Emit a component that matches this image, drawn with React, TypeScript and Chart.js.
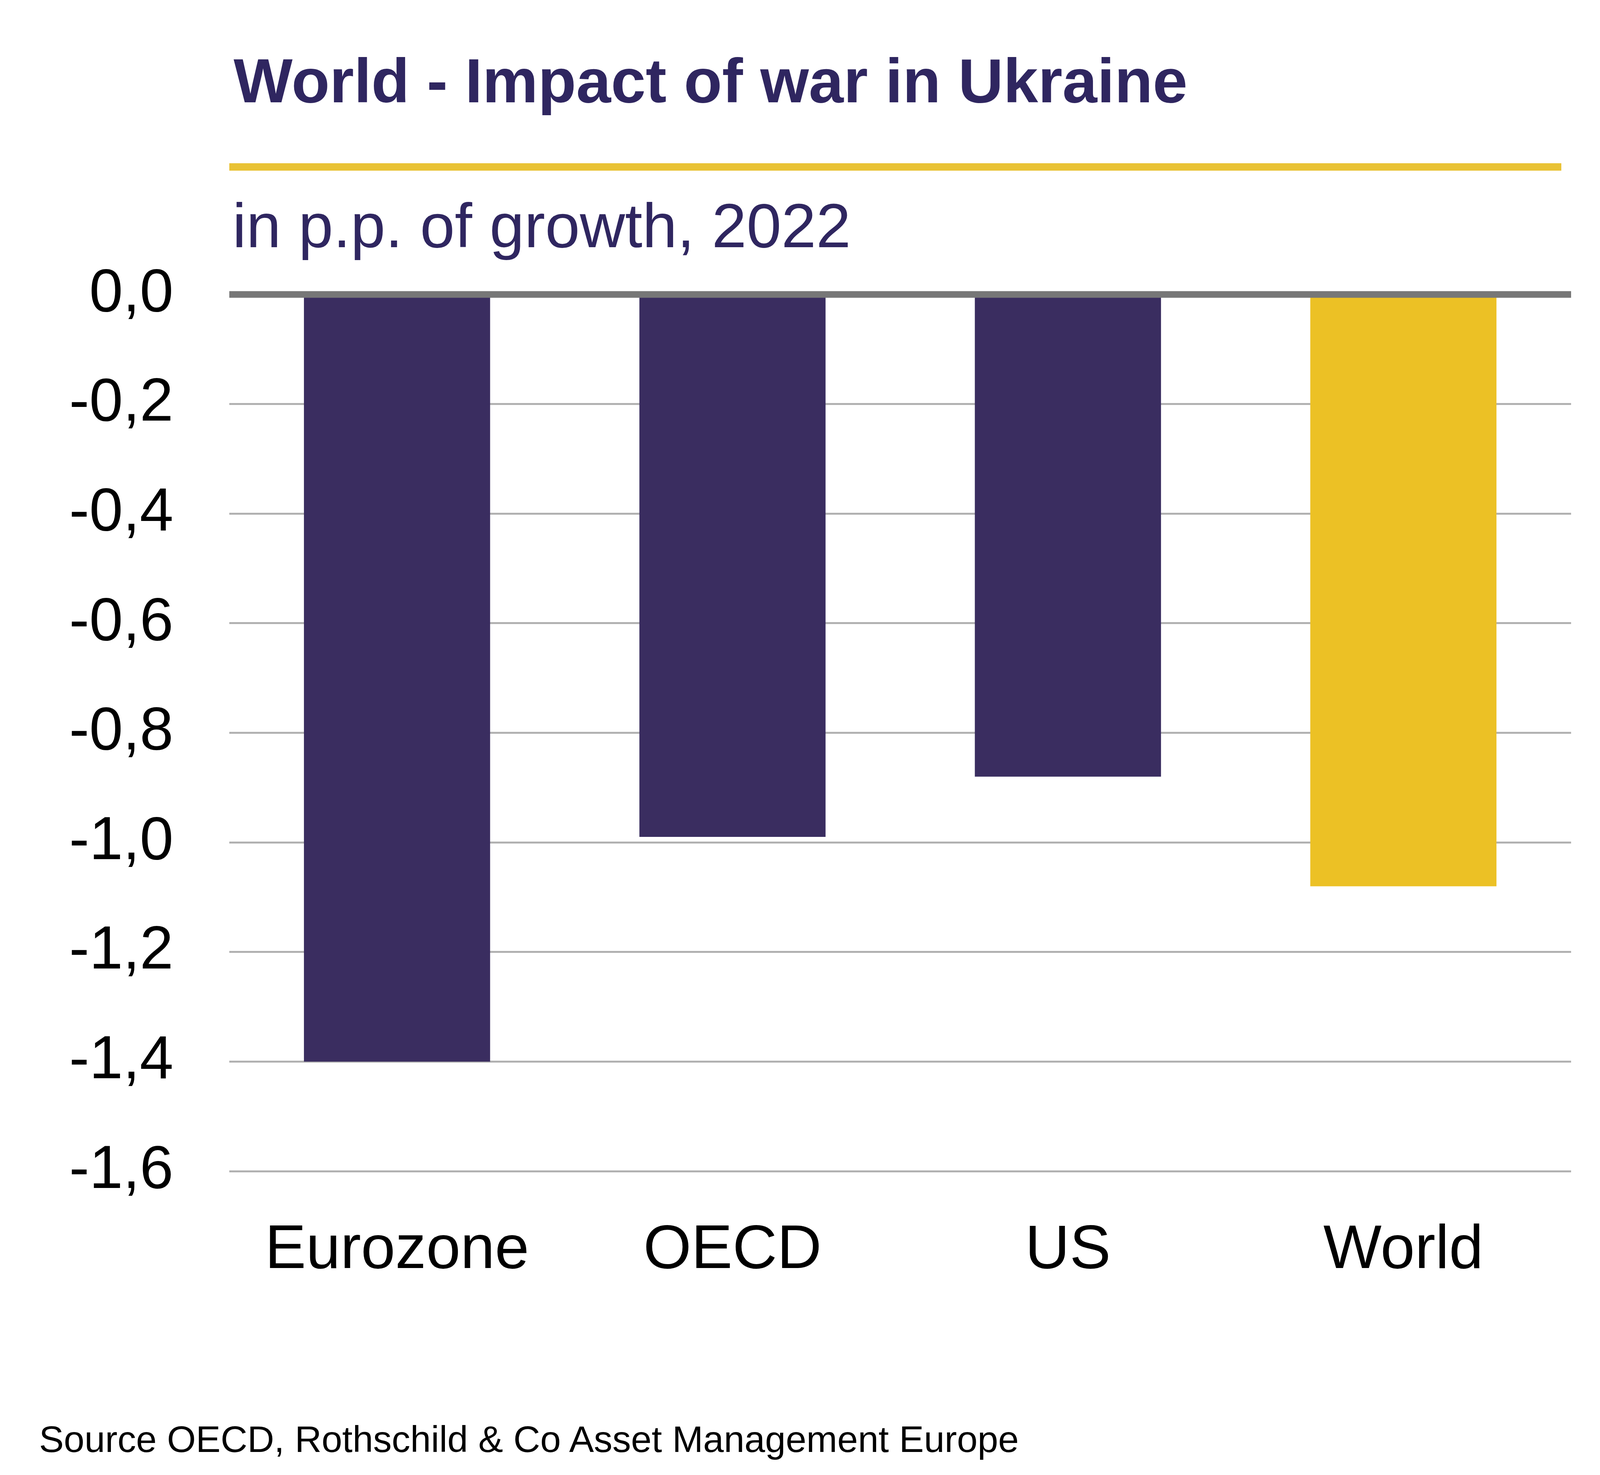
import { useEffect, useRef } from 'react';
import { Chart, registerables } from 'chart.js';

Chart.register(...registerables);

const categories = ['Eurozone', 'OECD', 'US', 'World'];
const impactValues = [-1.4, -0.99, -0.88, -1.08];
const barColors = ['#3a2d60', '#3a2d60', '#3a2d60', '#ecc125'];
const yMin = -1.6;
const yMax = 0;
const yStep = 0.2;
const titleText = 'World - Impact of war in Ukraine';
const subtitleText = 'in p.p. of growth, 2022';
const sourceText = 'Source OECD, Rothschild & Co Asset Management Europe';

const W = 4224;
const H = 3777;
const FONT = '"Liberation Sans", Arial, sans-serif';

const zeroLinePlugin = {
  id: 'zeroLine',
  afterDatasetsDraw(chart: any) {
    const y = chart.scales.y;
    const ctx = chart.ctx;
    const py = y.getPixelForValue(0);
    ctx.save();
    ctx.strokeStyle = '#777777';
    ctx.lineWidth = 17;
    ctx.beginPath();
    ctx.moveTo(chart.chartArea.left, py);
    ctx.lineTo(chart.chartArea.right, py);
    ctx.stroke();
    ctx.restore();
  },
};

export default function App() {
  const canvasRef = useRef<HTMLCanvasElement | null>(null);

  useEffect(() => {
    if (!canvasRef.current) return;
    const chart = new Chart(canvasRef.current, {
      type: 'bar',
      data: {
        labels: categories,
        datasets: [
          {
            data: impactValues,
            backgroundColor: barColors,
            borderWidth: 0,
            barPercentage: 0.555,
            categoryPercentage: 1,
          },
        ],
      },
      options: {
        animation: false,
        responsive: false,
        devicePixelRatio: 1,
        layout: { padding: { left: 0, right: 202, top: 754, bottom: 0 } },
        plugins: {
          legend: { display: false },
          tooltip: { enabled: false },
          title: { display: false },
        },
        scales: {
          x: {
            grid: { display: false, drawTicks: false },
            border: { display: false },
            ticks: {
              color: '#000000',
              padding: 110,
              font: { family: FONT, size: 158 },
              maxRotation: 0,
              autoSkip: false,
            },
            afterFit: (scale: any) => {
              scale.height = 778;
            },
          },
          y: {
            min: yMin,
            max: yMax,
            grid: {
              drawTicks: false,
              color: (ctx: any) =>
                ctx.tick && Math.abs(ctx.tick.value) < 1e-9 ? 'rgba(0,0,0,0)' : '#b1b1b1',
              lineWidth: 5,
            },
            border: { display: false },
            ticks: {
              stepSize: yStep,
              color: '#000000',
              padding: 143,
              font: { family: FONT, size: 155 },
              callback: (v: any) => {
                const n = Number(v);
                const s = (Math.abs(n) < 1e-9 ? 0 : n).toFixed(1);
                return s.replace('.', ',');
              },
            },
            afterFit: (scale: any) => {
              scale.width = 587;
            },
          },
        },
      },
      plugins: [zeroLinePlugin],
    });
    return () => chart.destroy();
  }, []);

  return (
    <div
      style={{
        position: 'absolute',
        left: 0,
        top: 0,
        width: W,
        height: H,
        background: '#ffffff',
        overflow: 'hidden',
        fontFamily: FONT,
      }}
    >
      <canvas
        ref={canvasRef}
        width={W}
        height={H}
        style={{ position: 'absolute', left: 0, top: 0, width: W, height: H }}
      />
      <div
        style={{
          position: 'absolute',
          left: 598,
          top: 127,
          fontSize: 160,
          lineHeight: '160px',
          fontWeight: 'bold',
          color: '#2f2660',
          whiteSpace: 'nowrap',
        }}
      >
        {titleText}
      </div>
      <div
        style={{
          position: 'absolute',
          left: 587,
          top: 418,
          width: 3410,
          height: 19,
          background: '#e9c235',
        }}
      />
      <div
        style={{
          position: 'absolute',
          left: 595,
          top: 498,
          fontSize: 160,
          lineHeight: '160px',
          color: '#2f2660',
          whiteSpace: 'nowrap',
        }}
      >
        {subtitleText}
      </div>
      <div
        style={{
          position: 'absolute',
          left: 100,
          top: 3638,
          fontSize: 95,
          lineHeight: '95px',
          color: '#000000',
          whiteSpace: 'nowrap',
        }}
      >
        {sourceText}
      </div>
    </div>
  );
}
